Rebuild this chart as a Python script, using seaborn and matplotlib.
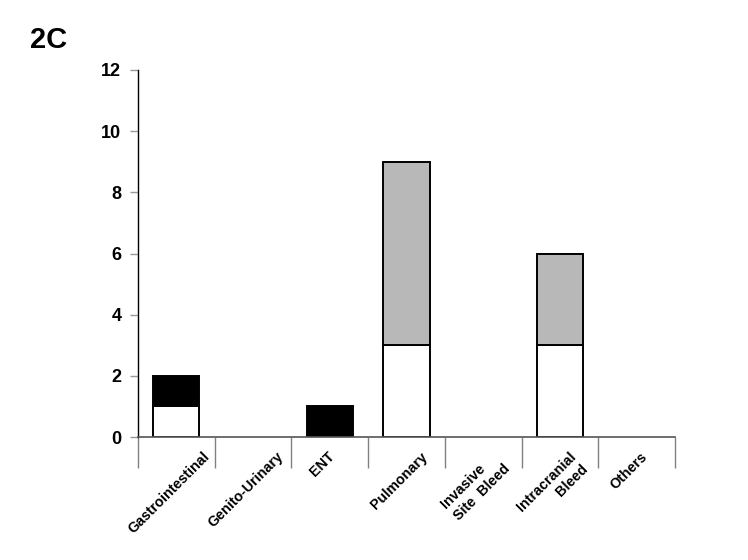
import matplotlib
matplotlib.use("Agg")
import matplotlib.pyplot as plt
import numpy as np
import pandas as pd
import seaborn as sns

categories = ["Gastrointestinal", "Genito-Urinary", "ENT", "Pulmonary",
              "Invasive\nSite  Bleed", "Intracranial\nBleed", "Others"]
label_align = ["left", "left", "left", "left", "left", "right", "left"]
white_vals = [1, 0, 0, 3, 0, 3, 0]
black_vals = [1, 0, 1, 0, 0, 0, 0]
gray_vals = [0, 0, 0, 6, 0, 3, 0]
base_vals = [0.12, 0, 0, 0.12, 0, 0.12, 0]
y_ticks = [0, 2, 4, 6, 8, 10, 12]

sns.set_style("white")
plt.rcParams['font.family'] = ['Liberation Sans', 'DejaVu Sans']
plt.rcParams['font.weight'] = 'bold'
plt.rcParams['text.color'] = 'black'

df = pd.DataFrame({"cat": categories, "white": white_vals, "black": black_vals,
                   "gray": gray_vals, "base": base_vals})

fig = plt.figure(figsize=(7.48, 5.6), dpi=100)
ax = fig.add_axes([0.1845, 0.2196, 0.7179, 0.6554])

common = dict(x="cat", width=0.6, edgecolor="black", linewidth=1.4, ax=ax)
sns.barplot(data=df, y="white", color="white", **common)
sns.barplot(data=df, y="black", color="black", bottom=df["white"], **common)
sns.barplot(data=df, y="gray", color="#b8b8b8",
            bottom=df["white"] + df["black"], **common)
n_before = len(ax.patches)
sns.barplot(data=df, y="base", color="black", width=0.6, edgecolor="black",
            linewidth=1, ax=ax)
for p in ax.patches[n_before:]:
    p.set_facecolor("black")
    p.set_zorder(3)

# hide zero-height bars outlines
for p in ax.patches:
    if p.get_height() == 0:
        p.set_visible(False)

ax.set_xlim(-0.5, len(categories) - 0.5)
ax.set_ylim(0, 12)
ax.set_yticks(y_ticks)
ax.set_yticklabels([str(t) for t in y_ticks], fontsize=13, fontweight='bold')
ax.set_xlabel("")
ax.set_ylabel("")

# labels sit a little left of the bar centres, top-aligned under the axis
ax.set_xticks(np.arange(len(categories)) - 0.1)
ax.set_xticklabels(categories, rotation=45, ha="center", va="top",
                   fontsize=10.3, fontweight='bold')
for lab, al in zip(ax.get_xticklabels(), label_align):
    lab.set_multialignment(al)
    lab.set_linespacing(1.3)
ax.tick_params(axis="x", which="major", length=0, pad=9, labelcolor="black")
ax.set_xticks(np.arange(len(categories) + 1) - 0.5, minor=True)
ax.tick_params(axis="x", which="minor", bottom=True, length=22, width=1,
               color="#808080", direction="out")
ax.tick_params(axis="y", length=6, width=1, color="#999999", direction="out",
               left=True, pad=6, labelcolor="black")

for s in ["top", "right"]:
    ax.spines[s].set_visible(False)
ax.spines["left"].set_color("black")
ax.spines["bottom"].set_color("#555555")
ax.spines["left"].set_linewidth(1)
ax.spines["bottom"].set_linewidth(1.2)

fig.text(0.04, 0.915, "2C", fontsize=21, fontweight='bold', color="black")

fig.savefig("out.png", dpi=100)
